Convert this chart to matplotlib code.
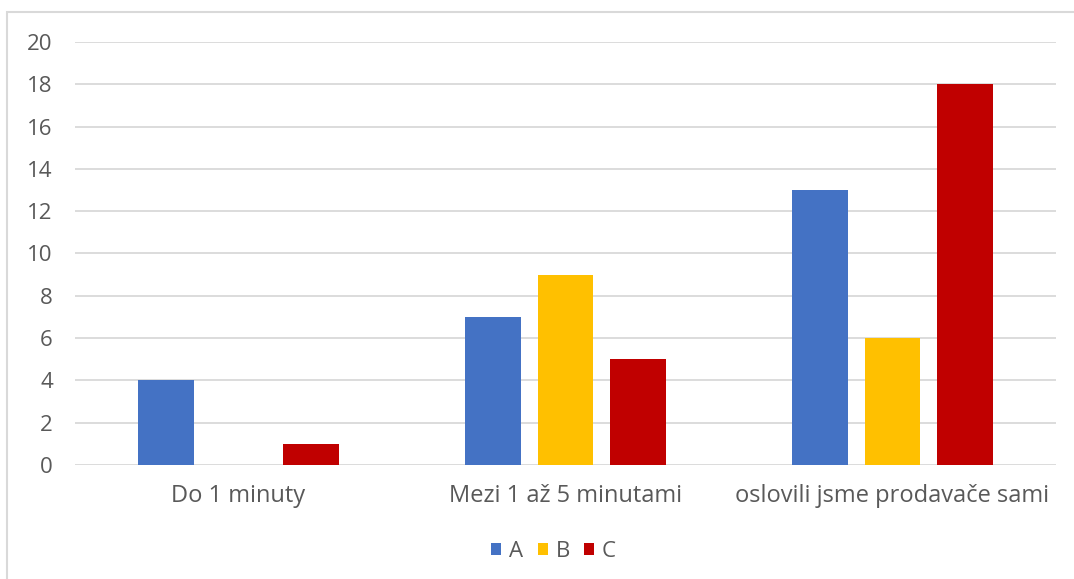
import matplotlib.pyplot as plt
import numpy as np
from matplotlib.patches import Rectangle

categories = ["Do 1 minuty", "Mezi 1 až 5 minutami", "oslovili jsme prodavače sami"]
series = ["A", "B", "C"]
vals_a = [4, 7, 13]
vals_b = [0, 9, 6]
vals_c = [1, 5, 18]
colors = ["#4472C4", "#FFC000", "#C00000"]

plt.rcParams['font.family'] = ['Open Sans', 'DejaVu Sans']

fig = plt.figure(figsize=(10.74, 5.79), dpi=100)
ax = fig.add_axes([75 / 1074, 1 - 465 / 579, (1056 - 75) / 1074, (465 - 42) / 579])

x = np.arange(len(categories))
width = 0.171
step = 0.222
for i, (name, vals) in enumerate(zip(series, [vals_a, vals_b, vals_c])):
    ax.bar(x + (i - 1) * step, vals, width, color=colors[i], label=name, zorder=3)

ax.set_xlim(-0.5, 2.5)
ax.set_ylim(0, 20)
ax.set_yticks(range(0, 21, 2))
ax.grid(axis='y', color='#D9D9D9', linewidth=1.3, zorder=0)
for s in ax.spines.values():
    s.set_visible(False)
ax.tick_params(axis='both', length=0, colors='#595959')
ax.tick_params(axis='y', pad=16, labelsize=16)
ax.tick_params(axis='x', pad=14, labelsize=17)
ax.set_xticks(x)
ax.set_xticklabels(categories)

leg = ax.legend(loc='center', bbox_to_anchor=(0.488, -0.205), ncol=3, frameon=False,
                fontsize=16, handlelength=0.45, handleheight=0.45, handletextpad=0.35,
                columnspacing=0.65, labelcolor='#595959')

# outer chart frame
fig.patches.append(Rectangle((7 / 1074, -0.01), 1.1, 1 - 12 / 579 + 0.01,
                             transform=fig.transFigure, fill=False,
                             edgecolor='#D9D9D9', linewidth=1.5))

fig.savefig("out.png", dpi=100)
